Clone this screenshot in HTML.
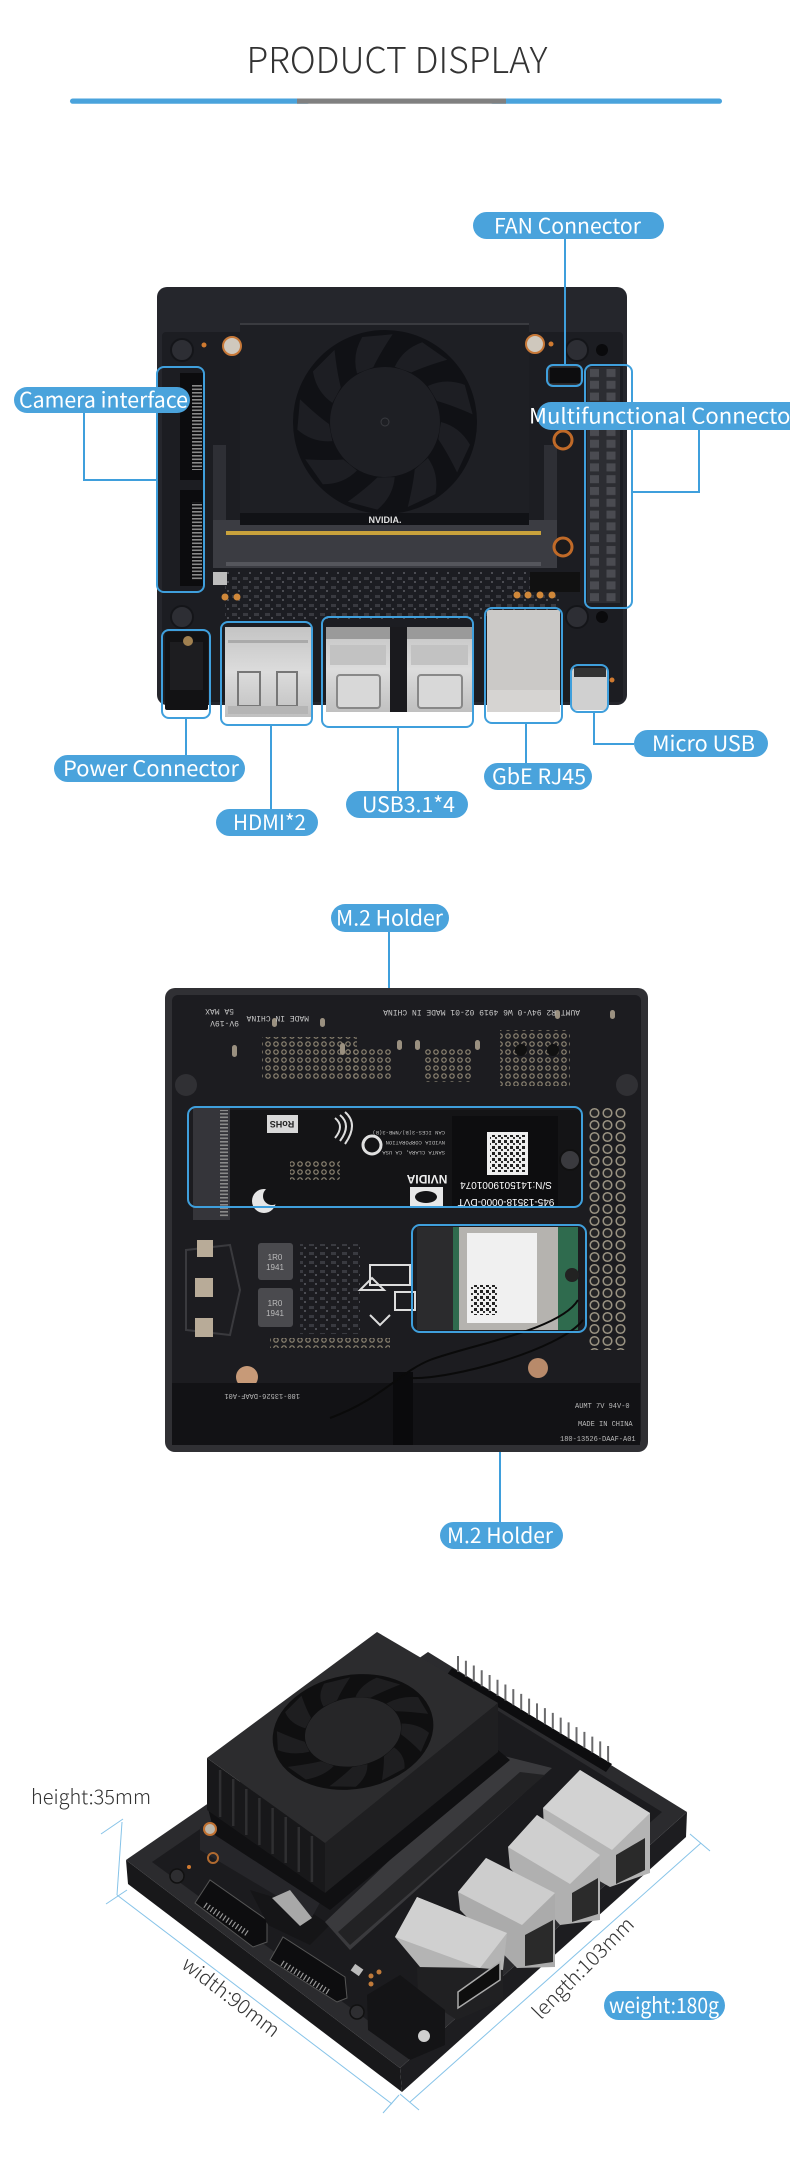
<!DOCTYPE html>
<html><head><meta charset="utf-8"><style>
html,body{margin:0;padding:0;background:#fff;}
body{width:790px;height:2184px;overflow:hidden;}
svg{display:block;}
.lb{font-family:"Noto Sans CJK SC","Liberation Sans",sans-serif;fill:#fff;font-size:21px;}
.dim{font-family:"Noto Sans CJK SC","Liberation Sans",sans-serif;fill:#333;font-size:20px;font-weight:300;}
</style></head><body>
<svg width="790" height="2184" viewBox="0 0 790 2184" xmlns="http://www.w3.org/2000/svg">
<defs>
<path id="blade" d="M56,0 Q75,5 85,22.8 L72.1,50.5 Q62,30 53.3,17.3 Z"/>
<pattern id="pcbDots" x="0" y="0" width="8" height="8" patternUnits="userSpaceOnUse"><circle cx="4" cy="4" r="2.2" fill="none" stroke="#8e8573" stroke-width="1.2"/></pattern>
<pattern id="rings" x="588" y="1107" width="13" height="12" patternUnits="userSpaceOnUse"><circle cx="6.5" cy="6" r="4.3" fill="#242426" stroke="#9a9382" stroke-width="1.5"/></pattern>
<pattern id="hpins" x="587" y="367" width="16.5" height="11.8" patternUnits="userSpaceOnUse"><rect x="3" y="2" width="9" height="8" fill="#4a4b51"/></pattern>
<pattern id="cpins" x="0" y="0" width="10" height="3.5" patternUnits="userSpaceOnUse"><rect x="0" y="0" width="10" height="1.6" fill="#8a8a8a"/></pattern>
<pattern id="chips" x="0" y="0" width="11" height="9" patternUnits="userSpaceOnUse"><rect x="1" y="1" width="5" height="3" fill="#393a40"/><rect x="7" y="5" width="2" height="2" fill="#4c4d53"/></pattern>
<pattern id="qr" x="0" y="0" width="6" height="6" patternUnits="userSpaceOnUse"><rect x="0" y="0" width="3" height="3" fill="#222"/><rect x="3" y="3" width="2" height="2" fill="#333"/></pattern>
<linearGradient id="silver" x1="0" y1="0" x2="0" y2="1"><stop offset="0" stop-color="#c4c4c4"/><stop offset="0.5" stop-color="#dcdcdc"/><stop offset="1" stop-color="#c0c0c0"/></linearGradient>
</defs>

<!-- Title -->
<text x="397" y="73" text-anchor="middle" font-family="Noto Sans CJK SC, Liberation Sans, sans-serif" font-size="36" font-weight="300" fill="#333" textLength="301" lengthAdjust="spacingAndGlyphs">PRODUCT DISPLAY</text>
<rect x="70" y="98.5" width="240" height="5.2" rx="2.6" fill="#4aa3dc"/>
<rect x="490" y="98.5" width="232" height="5.2" rx="2.6" fill="#4aa3dc"/>
<rect x="297" y="98.5" width="209" height="5.2" fill="#808080"/>

<!-- ================= BOARD 1 ================= -->
<rect x="157" y="287" width="470" height="418" rx="10" fill="#25262c"/>
<rect x="162" y="332" width="461" height="370" rx="4" fill="#1c1d22"/>
<g fill="#2d2e34" stroke="#141519" stroke-width="2">
<circle cx="182" cy="350" r="11"/><circle cx="577" cy="350" r="11"/><circle cx="182" cy="617" r="11"/><circle cx="577" cy="617" r="11"/>
</g>
<g fill="#0a0a0c"><circle cx="602" cy="350" r="6"/><circle cx="602" cy="617" r="6"/></g>
<g fill="#d07a30"><circle cx="204" cy="345" r="2.5"/><circle cx="551" cy="344" r="2.5"/><circle cx="612" cy="680" r="2.5"/></g>
<rect x="180" y="373" width="23" height="107" fill="#0c0c0e"/>
<rect x="180" y="490" width="23" height="96" fill="#0c0c0e"/>
<rect x="192" y="385" width="10" height="85" fill="url(#cpins)"/>
<rect x="192" y="502" width="10" height="78" fill="url(#cpins)"/>
<rect x="213" y="445" width="13" height="122" fill="#2e2f35"/>
<rect x="544" y="445" width="13" height="122" fill="#2e2f35"/>
<rect x="213" y="520" width="344" height="48" fill="#3b3c42"/>
<rect x="226" y="531" width="315" height="4" fill="#c9a23c"/>
<rect x="226" y="562" width="315" height="4" fill="#55565c"/>
<rect x="240" y="323" width="289" height="196" fill="#1e1f24"/>
<rect x="240" y="323" width="289" height="2" fill="#3a3b40"/>
<rect x="240" y="513" width="289" height="12" fill="#111216"/>
<text x="385" y="523" text-anchor="middle" font-family="Liberation Sans, sans-serif" font-size="9" font-weight="bold" fill="#e0e0e0">NVIDIA.</text>
<circle cx="232" cy="346" r="9" fill="#cfc8bd" stroke="#c77838" stroke-width="2"/>
<circle cx="535" cy="344" r="9" fill="#cfc8bd" stroke="#c77838" stroke-width="2"/>
<circle cx="385" cy="422" r="92" fill="#101115"/>
<g transform="translate(385,422)" fill="#1d1e23">
<use href="#blade"/><use href="#blade" transform="rotate(40)"/><use href="#blade" transform="rotate(80)"/><use href="#blade" transform="rotate(120)"/><use href="#blade" transform="rotate(160)"/><use href="#blade" transform="rotate(200)"/><use href="#blade" transform="rotate(240)"/><use href="#blade" transform="rotate(280)"/><use href="#blade" transform="rotate(320)"/>
</g>
<circle cx="385" cy="422" r="55" fill="#1e1f24"/>
<circle cx="385" cy="422" r="4" fill="none" stroke="#3a3b40" stroke-width="1"/>
<rect x="587" y="367" width="33" height="236" fill="#2c2d32"/>
<rect x="587" y="367" width="33" height="236" fill="url(#hpins)"/>
<circle cx="563" cy="440" r="9" fill="#1a1a1c" stroke="#c06a28" stroke-width="3"/>
<circle cx="563" cy="547" r="9" fill="#1a1a1c" stroke="#c06a28" stroke-width="3"/>
<rect x="549" y="367" width="32" height="17" fill="#0d0d0f" stroke="#444" stroke-width="1"/>
<rect x="225" y="572" width="335" height="50" fill="url(#chips)"/>
<rect x="530" y="572" width="50" height="20" fill="#111"/>
<g fill="#d0883a"><circle cx="225" cy="597" r="3.5"/><circle cx="237" cy="597" r="3.5"/><circle cx="517" cy="595" r="3.5"/><circle cx="528" cy="595" r="3.5"/><circle cx="540" cy="595" r="3.5"/><circle cx="552" cy="595" r="3.5"/></g>
<rect x="213" y="572" width="14" height="13" fill="#bdbdbd"/>
<rect x="165" y="632" width="43" height="78" rx="2" fill="#121214"/>
<rect x="170" y="642" width="33" height="48" fill="#1d1d20"/>
<circle cx="188" cy="641" r="5" fill="#a08050"/>
<rect x="225" y="627" width="86" height="90" fill="url(#silver)"/>
<rect x="228" y="640" width="80" height="3" fill="#aaa"/>
<rect x="238" y="672" width="22" height="34" fill="none" stroke="#777" stroke-width="2"/>
<rect x="277" y="672" width="20" height="34" fill="none" stroke="#777" stroke-width="2"/>
<rect x="228" y="706" width="80" height="8" fill="#b5b5b5"/>
<rect x="390" y="627" width="17" height="85" fill="#1a1a1e"/>
<rect x="326" y="627" width="64" height="85" fill="url(#silver)"/>
<rect x="407" y="627" width="65" height="85" fill="url(#silver)"/>
<rect x="326" y="627" width="64" height="12" fill="#9a9a9a"/>
<rect x="407" y="627" width="65" height="12" fill="#9a9a9a"/>
<rect x="337" y="675" width="43" height="33" rx="3" fill="#d8d8d8" stroke="#888" stroke-width="2"/>
<rect x="418" y="675" width="44" height="33" rx="3" fill="#d8d8d8" stroke="#888" stroke-width="2"/>
<rect x="330" y="645" width="56" height="20" fill="#c2c2c2"/>
<rect x="411" y="645" width="57" height="20" fill="#c2c2c2"/>
<rect x="487" y="610" width="73" height="102" rx="2" fill="#cbc9c7"/>
<rect x="487" y="690" width="73" height="22" fill="#d6d4d2"/>
<rect x="572" y="668" width="36" height="42" rx="3" fill="#d0d0d0"/>
<rect x="574" y="668" width="32" height="9" fill="#333"/>
<g fill="none" stroke="#3f9fdc" stroke-width="2">
<rect x="157" y="367" width="47" height="225" rx="7"/>
<rect x="585" y="365" width="47" height="243" rx="7"/>
<rect x="547" y="365" width="35" height="21" rx="6"/>
<rect x="162" y="630" width="48" height="88" rx="7"/>
<rect x="221" y="622" width="91" height="103" rx="7"/>
<rect x="322" y="617" width="151" height="110" rx="7"/>
<rect x="485" y="608" width="77" height="115" rx="7"/>
<rect x="571" y="665" width="37" height="47" rx="7"/>
<polyline points="565,239 565,365"/>
<polyline points="84,413 84,480 157,480"/>
<polyline points="699,430 699,492 632,492"/>
<polyline points="186,718 186,755"/>
<polyline points="271,725 271,809"/>
<polyline points="398,727 398,791"/>
<polyline points="526,723 526,763"/>
<polyline points="594,712 594,744 634,744"/>
<polyline points="389,932 389,1107"/>
<polyline points="500,1332 500,1522"/>
</g>
<g fill="#4aa3dc">
<rect x="473" y="212" width="191" height="27" rx="13.5"/>
<rect x="14" y="387" width="176" height="26" rx="13"/>
<rect x="537" y="402" width="270" height="28" rx="14"/>
<rect x="54" y="755" width="191" height="27" rx="13.5"/>
<rect x="216" y="809" width="102" height="27" rx="13.5"/>
<rect x="346" y="791" width="122" height="27" rx="13.5"/>
<rect x="484" y="763" width="108" height="27" rx="13.5"/>
<rect x="634" y="730" width="134" height="27" rx="13.5"/>
<rect x="331" y="904" width="118" height="28" rx="14"/>
<rect x="440" y="1522" width="123" height="27" rx="13.5"/>
<rect x="604" y="1991" width="121" height="29" rx="14.5"/>
</g>
<text class="lb" x="494" y="233.5" textLength="147" lengthAdjust="spacingAndGlyphs">FAN Connector</text>
<text class="lb" x="19" y="407.5" textLength="169" lengthAdjust="spacingAndGlyphs">Camera interface</text>
<text class="lb" x="529" y="423.5" textLength="270" lengthAdjust="spacingAndGlyphs">Multifunctional Connector</text>
<text class="lb" x="63" y="776" textLength="176" lengthAdjust="spacingAndGlyphs">Power Connector</text>
<text class="lb" x="233" y="830" textLength="73" lengthAdjust="spacingAndGlyphs">HDMI*2</text>
<text class="lb" x="362" y="812" textLength="93" lengthAdjust="spacingAndGlyphs">USB3.1*4</text>
<text class="lb" x="492" y="784" textLength="94" lengthAdjust="spacingAndGlyphs">GbE RJ45</text>
<text class="lb" x="652" y="751" textLength="103" lengthAdjust="spacingAndGlyphs">Micro USB</text>
<text class="lb" x="336" y="925.5" textLength="107" lengthAdjust="spacingAndGlyphs">M.2 Holder</text>
<text class="lb" x="447" y="1543" textLength="106" lengthAdjust="spacingAndGlyphs">M.2 Holder</text>
<text class="lb" x="609" y="2013" textLength="110" lengthAdjust="spacingAndGlyphs">weight:180g</text>

<!-- ================= BOARD 2 ================= -->
<rect x="165" y="988" width="483" height="464" rx="10" fill="#303034"/>
<rect x="172" y="995" width="469" height="450" rx="6" fill="#1c1c20"/>
<circle cx="186" cy="1085" r="11" fill="#303034"/>
<circle cx="627" cy="1085" r="11" fill="#303034"/>
<rect x="262" y="1037" width="95" height="42" fill="url(#pcbDots)"/>
<rect x="347" y="1047" width="44" height="34" fill="url(#pcbDots)"/>
<rect x="425" y="1048" width="46" height="34" fill="url(#pcbDots)"/>
<rect x="500" y="1030" width="70" height="56" fill="url(#pcbDots)"/>
<g fill="#9a9080"><rect x="232" y="1045" width="5" height="12" rx="2.5"/><rect x="272" y="1018" width="5" height="9" rx="2.5"/><rect x="320" y="1018" width="5" height="9" rx="2.5"/><rect x="340" y="1043" width="5" height="12" rx="2.5"/><rect x="397" y="1040" width="5" height="10" rx="2.5"/><rect x="415" y="1040" width="5" height="10" rx="2.5"/><rect x="475" y="1040" width="5" height="10" rx="2.5"/><rect x="555" y="1010" width="5" height="9" rx="2.5"/><rect x="610" y="1010" width="5" height="9" rx="2.5"/></g>
<g fill="#111"><circle cx="521" cy="1050" r="6"/><circle cx="553" cy="1050" r="6"/></g>
<g font-family="Liberation Mono, monospace" font-size="8" fill="#c8c8c8">
<text x="210" y="1015" transform="rotate(180 222 1012)">5A MAX</text>
<text x="205" y="1027" transform="rotate(180 222 1024)">9V-19V</text>
<text x="420" y="1016" transform="rotate(180 500 1013)">AUMT R2 94V-0 W6 4919 02-01 MADE IN CHINA</text>
<text x="255" y="1022" transform="rotate(180 282 1019)">MADE IN CHINA</text>
</g>
<rect x="230" y="1110" width="352" height="96" fill="#141416"/>
<rect x="193" y="1108" width="37" height="112" fill="#35353a"/>
<rect x="220" y="1110" width="8" height="108" fill="url(#cpins)"/>
<rect x="267" y="1115" width="31" height="18" fill="#d8d8d8"/>
<text x="282" y="1129" text-anchor="middle" font-family="Liberation Sans, sans-serif" font-size="9" font-weight="bold" fill="#222" transform="rotate(180 282 1125)">RoHS</text>
<rect x="290" y="1160" width="50" height="20" fill="url(#pcbDots)"/>
<circle cx="264" cy="1201" r="12" fill="#e6e6e6"/>
<circle cx="272" cy="1196" r="9" fill="#141416"/>
<circle cx="372" cy="1145" r="9" fill="none" stroke="#e0e0e0" stroke-width="3"/>
<path d="M335,1118 q10,8 0,20 M340,1115 q12,10 0,26 M345,1112 q14,12 0,32" fill="none" stroke="#ddd" stroke-width="2"/>
<text x="427" y="1183" text-anchor="middle" font-family="Liberation Sans, sans-serif" font-size="12" font-weight="bold" fill="#eee" transform="rotate(180 427 1179)">NVIDIA</text>
<g font-family="Liberation Mono, monospace" font-size="5.5" fill="#bbb"><text x="395" y="1135" transform="rotate(180 420 1133)">CAN ICES-3(B)/NMB-3(B)</text><text x="395" y="1145" transform="rotate(180 420 1143)">NVIDIA CORPORATION</text><text x="395" y="1155" transform="rotate(180 420 1153)">SANTA CLARA, CA USA</text></g>
<rect x="410" y="1187" width="33" height="21" fill="#e8e8e8"/>
<ellipse cx="426" cy="1197" rx="11" ry="6" fill="#141416"/>
<rect x="452" y="1116" width="106" height="92" fill="#0d0d0f"/>
<rect x="487" y="1132" width="41" height="43" fill="#eee"/>
<rect x="490" y="1135" width="35" height="37" fill="url(#qr)"/>
<text x="506" y="1190" text-anchor="middle" font-family="Liberation Sans, sans-serif" font-size="10" fill="#fff" transform="rotate(180 506 1186)">S/N:1415019001074</text>
<text x="506" y="1207" text-anchor="middle" font-family="Liberation Sans, sans-serif" font-size="10" fill="#fff" transform="rotate(180 506 1203)">945-13518-0000-DVT</text>
<circle cx="570" cy="1160" r="10" fill="#3a3a3e" stroke="#111" stroke-width="2"/>
<rect x="588" y="1107" width="39" height="243" fill="url(#rings)"/>
<rect x="417" y="1227" width="36" height="103" fill="#2b2b2d"/>
<rect x="453" y="1227" width="6" height="103" fill="#2f6b4e"/>
<rect x="459" y="1227" width="99" height="103" fill="#b5b3af"/>
<rect x="467" y="1233" width="70" height="90" fill="#f0f0f0"/>
<rect x="471" y="1285" width="27" height="30" fill="url(#qr)"/>
<rect x="558" y="1227" width="20" height="103" fill="#2f6b4e"/>
<circle cx="572" cy="1275" r="7" fill="#222"/>
<rect x="258" y="1243" width="35" height="37" rx="3" fill="#4a4a4e"/>
<rect x="258" y="1288" width="35" height="39" rx="3" fill="#4a4a4e"/>
<g font-family="Liberation Sans, sans-serif" font-size="8" fill="#bbb" text-anchor="middle"><text x="275" y="1260">1R0</text><text x="275" y="1270">1941</text><text x="275" y="1306">1R0</text><text x="275" y="1316">1941</text></g>
<path d="M186,1250 L230,1245 L240,1290 L230,1335 L186,1330 Z" fill="none" stroke="#3a3a3e" stroke-width="2"/>
<rect x="197" y="1240" width="16" height="17" fill="#b8ab98"/>
<rect x="195" y="1278" width="18" height="19" fill="#b8ab98"/>
<rect x="195" y="1318" width="18" height="19" fill="#b8ab98"/>
<rect x="300" y="1244" width="60" height="90" fill="url(#chips)"/>
<path d="M360,1290 l12,-12 l12,12 z M370,1315 l10,10 l10,-10 M395,1292 h20 v18 h-20 z" fill="none" stroke="#ddd" stroke-width="2"/>
<rect x="370" y="1265" width="40" height="20" fill="none" stroke="#ddd" stroke-width="2"/>
<rect x="270" y="1338" width="120" height="10" fill="url(#pcbDots)"/>
<circle cx="247" cy="1377" r="11" fill="#c79a78"/>
<circle cx="538" cy="1368" r="10" fill="#b88a6a"/>
<rect x="172" y="1383" width="468" height="62" fill="#121215"/>
<rect x="393" y="1372" width="20" height="73" fill="#0a0a0c"/>
<g font-family="Liberation Mono, monospace" font-size="7" fill="#bbb">
<text x="575" y="1408">AUMT 7V 94V-0</text><text x="578" y="1426">MADE IN CHINA</text><text x="560" y="1441">180-13526-DAAF-A01</text>
<text x="300" y="1400" transform="rotate(180 300 1397)">180-13526-DAAF-A01</text>
</g>
<path d="M578,1300 C560,1330 470,1345 430,1360 C400,1372 380,1400 330,1418" fill="none" stroke="#0a0a0a" stroke-width="2"/>
<path d="M583,1320 C560,1350 450,1380 410,1378" fill="none" stroke="#0a0a0a" stroke-width="2"/>
<g fill="none" stroke="#3f9fdc" stroke-width="2">
<rect x="188" y="1107" width="394" height="100" rx="8"/>
<rect x="412" y="1225" width="174" height="107" rx="8"/>
</g>

<!-- ================= BOARD 3 ================= -->
<polygon points="126,1860 400,2068 402,2092 128,1884" fill="#18181a"/>
<polygon points="400,2068 687,1812 686,1837 402,2092" fill="#1d1d20"/>
<polygon points="126,1860 428,1652 687,1812 400,2068" fill="#2b2b2e"/>
<polygon points="152,1862 432,1670 662,1812 400,2044" fill="#1b1b1e"/>
<circle cx="177" cy="1876" r="7" fill="#2e2e31" stroke="#111" stroke-width="1.5"/>
<circle cx="357" cy="2012" r="7" fill="#2e2e31" stroke="#111" stroke-width="1.5"/>
<circle cx="189" cy="1867" r="2" fill="#d07a30"/>
<!-- camera connectors -->
<polygon points="195,1903 210,1880 267,1920 267,1942 253,1947" fill="#0d0d0f" stroke="#555" stroke-width="1"/>
<polygon points="270,1960 283,1937 345,1977 347,1998 337,2002" fill="#0d0d0f" stroke="#555" stroke-width="1"/>
<line x1="205" y1="1905" x2="248" y2="1934" stroke="#999" stroke-width="6" stroke-dasharray="1.2 2.6"/>
<line x1="282" y1="1963" x2="330" y2="1993" stroke="#999" stroke-width="6" stroke-dasharray="1.2 2.6"/>
<polygon points="250,1890 300,1905 330,1925 310,1945 268,1925" fill="#151517"/>
<!-- pin header -->
<polygon points="452,1668 612,1764 606,1772 446,1676" fill="#0d0d0f"/>
<path d="M458,1672 v-16 m7.9,20.74 v-16 m7.9,20.74 v-16 m7.9,20.74 v-16 m7.9,20.74 v-16 m7.9,20.74 v-16 m7.9,20.74 v-16 m7.9,20.74 v-16 m7.9,20.74 v-16 m7.9,20.74 v-16 m7.9,20.74 v-16 m7.9,20.74 v-16 m7.9,20.74 v-16 m7.9,20.74 v-16 m7.9,20.74 v-16 m7.9,20.74 v-16 m7.9,20.74 v-16 m7.9,20.74 v-16 m7.9,20.74 v-16 m7.9,20.74 v-16" fill="none" stroke="#6a6a6c" stroke-width="2"/>
<!-- slot and module -->
<polygon points="500,1755 552,1768 350,1950 325,1922" fill="#3a3a3d"/>
<polygon points="520,1772 545,1775 350,1945 338,1932" fill="#222224"/>
<polygon points="200,1827 227,1812 327,1890 312,1917 200,1850" fill="#26262a"/>
<polygon points="207,1805 325,1890 498,1750 510,1760 330,1910 215,1835" fill="#101012"/>
<circle cx="210" cy="1829" r="6" fill="#bdb6aa" stroke="#c07030" stroke-width="2"/>
<circle cx="213" cy="1858" r="5" fill="none" stroke="#b06a30" stroke-width="2"/>
<polygon points="272,1898 290,1890 312,1918 300,1926" fill="#a8a8a8"/>
<!-- heatsink -->
<polygon points="207,1758 325,1843 325,1893 207,1810" fill="#18181a"/>
<g stroke="#2f2f31" stroke-width="2.5">
<line x1="220.1" y1="1770" x2="220.1" y2="1817"/><line x1="233.2" y1="1779" x2="233.2" y2="1826"/><line x1="246.3" y1="1789" x2="246.3" y2="1835"/><line x1="259.4" y1="1798" x2="259.4" y2="1845"/><line x1="272.6" y1="1808" x2="272.6" y2="1854"/><line x1="285.7" y1="1817" x2="285.7" y2="1863"/><line x1="298.8" y1="1827" x2="298.8" y2="1872"/><line x1="311.9" y1="1836" x2="311.9" y2="1882"/>
</g>
<polygon points="325,1843 498,1703 498,1752 325,1893" fill="#1f1f21"/>
<polygon points="207,1758 377,1632 498,1703 325,1843" fill="#2c2c2e"/>
<g transform="translate(353,1732) rotate(-10) scale(0.88,0.62)">
<circle r="92" fill="#0f0f10"/>
<g fill="#1e1e20"><use href="#blade"/><use href="#blade" transform="rotate(40)"/><use href="#blade" transform="rotate(80)"/><use href="#blade" transform="rotate(120)"/><use href="#blade" transform="rotate(160)"/><use href="#blade" transform="rotate(200)"/><use href="#blade" transform="rotate(240)"/><use href="#blade" transform="rotate(280)"/><use href="#blade" transform="rotate(320)"/></g>
<circle r="55" fill="#262628"/>
</g>
<!-- ports -->
<polygon points="543,1808 580,1770 650,1813 650,1873 610,1887 545,1850" fill="#b4b4b4"/>
<polygon points="543,1808 580,1770 650,1813 612,1850" fill="#d2d2d2"/>
<polygon points="616,1855 645,1838 645,1870 616,1884" fill="#2a2a2a"/>
<polygon points="508,1847 537,1815 600,1858 600,1920 560,1925 510,1868" fill="#b0b0b0"/>
<polygon points="508,1847 537,1815 600,1855 570,1884" fill="#cfcfcf"/>
<polygon points="572,1893 598,1878 598,1914 572,1922" fill="#2b2b2b"/>
<polygon points="458,1892 486,1858 555,1893 555,1967 517,1968 460,1910" fill="#ababab"/>
<polygon points="458,1892 486,1858 555,1893 522,1925" fill="#cdcdcd"/>
<polygon points="525,1935 553,1920 553,1962 525,1966" fill="#2a2a2a"/>
<polygon points="395,1937 417,1897 507,1933 503,1970 457,2013 420,1967" fill="#b4b4b4"/>
<polygon points="395,1937 417,1897 507,1933 480,1968" fill="#d0d0d0"/>
<polygon points="417,1967 480,1968 503,1970 503,2000 457,2020 418,1995" fill="#202022"/>
<polygon points="458,1992 500,1962 500,1980 458,2008" fill="#0e0e0e" stroke="#aaa" stroke-width="1.5"/>
<polygon points="367,1995 400,1975 445,2010 445,2045 410,2060 368,2030" fill="#141416"/>
<circle cx="424" cy="2036" r="6" fill="#cfcfcf"/>
<g fill="#c07a3a"><circle cx="371" cy="1976" r="2.5"/><circle cx="379" cy="1972" r="2.5"/><circle cx="371" cy="1984" r="2.5"/></g>
<rect x="352" y="1966" width="10" height="8" fill="#bbb" transform="rotate(35 357 1970)"/>
<!-- dimension lines -->
<g stroke="#86c3e8" stroke-width="1" fill="none">
<line x1="122" y1="1822" x2="117" y2="1895"/>
<line x1="101" y1="1834" x2="123" y2="1819"/>
<line x1="106" y1="1904" x2="127" y2="1890"/>
<line x1="117" y1="1895" x2="392" y2="2104"/>
<line x1="383" y1="2113" x2="399" y2="2095"/>
<line x1="410" y1="2102" x2="701" y2="1843"/>
<line x1="400" y1="2094" x2="419" y2="2110"/>
<line x1="690" y1="1834" x2="710" y2="1851"/>
</g>
<text class="dim" x="31" y="1804" textLength="120" lengthAdjust="spacingAndGlyphs">height:35mm</text>
<text class="dim" x="0" y="7" text-anchor="middle" textLength="117" lengthAdjust="spacingAndGlyphs" transform="translate(231,1997) rotate(37.5)">width:90mm</text>
<text class="dim" x="0" y="7" text-anchor="middle" textLength="134" lengthAdjust="spacingAndGlyphs" transform="translate(583,1968) rotate(-45)">length:103mm</text>
</svg>
</body></html>
